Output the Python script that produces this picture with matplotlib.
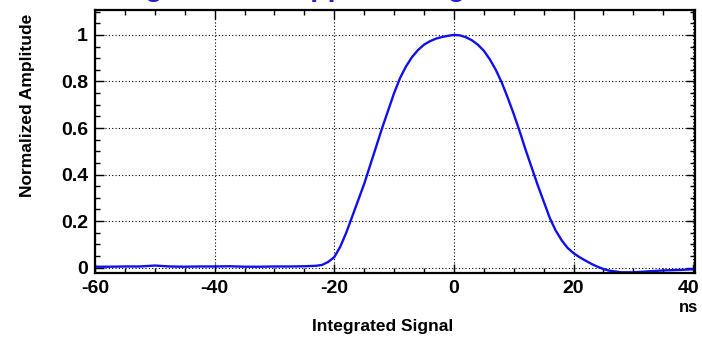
import numpy as np
import matplotlib
matplotlib.use("Agg")
import matplotlib.pyplot as plt
import matplotlib.transforms as mtransforms
from matplotlib.ticker import MultipleLocator

plt.rcParams['font.family'] = ['Liberation Sans', 'DejaVu Sans']
plt.rcParams['axes.unicode_minus'] = False

# Integrated signal (time in ns, normalized amplitude)
time_ns = [-60, -57.5, -55, -52.5, -50, -47.5, -45, -42.5, -40, -37.5, -35, -32.5,
           -30, -27.5, -25, -23, -22, -21, -20, -19, -18, -17, -16, -15, -14, -13,
           -12, -11, -10, -9, -8, -7, -6, -5, -4, -3, -2, -1, 0, 1, 2, 3, 4, 5, 6,
           7, 8, 9, 10, 11, 12, 13, 14, 15, 16, 17, 18, 19, 20, 21, 22, 23, 24, 25,
           26, 28, 30, 32.5, 35, 37.5, 40]
amplitude = [0.004, 0.004, 0.005, 0.005, 0.009, 0.005, 0.004, 0.005, 0.005, 0.006,
             0.004, 0.004, 0.005, 0.005, 0.006, 0.008, 0.012, 0.025, 0.045, 0.09,
             0.15, 0.22, 0.29, 0.36, 0.44, 0.52, 0.60, 0.675, 0.75, 0.815, 0.865,
             0.905, 0.935, 0.958, 0.973, 0.984, 0.991, 0.996, 1.0, 0.998, 0.99,
             0.977, 0.958, 0.932, 0.895, 0.85, 0.795, 0.73, 0.66, 0.585, 0.505,
             0.43, 0.355, 0.285, 0.215, 0.16, 0.118, 0.085, 0.062, 0.045, 0.03,
             0.016, 0.004, -0.006, -0.013, -0.02, -0.02, -0.016, -0.012, -0.01,
             -0.007]

x_ticks = [-60, -40, -20, 0, 20, 40]
y_ticks = [0, 0.2, 0.4, 0.6, 0.8, 1]
y_tick_labels = ['0', '0.2', '0.4', '0.6', '0.8', '1']

fig = plt.figure(figsize=(7.02, 3.38), dpi=100)
ax = fig.add_axes([95 / 702, 1 - 273 / 338, 600 / 702, 263 / 338])

ax.plot(time_ns, amplitude, color='#1010ee', lw=1.7)

ax.set_xlim(-60, 40.3)
ax.set_ylim(-0.023, 1.107)
ax.set_xticks(x_ticks)
ax.set_yticks(y_ticks)
ax.set_yticklabels(y_tick_labels)
ax.xaxis.set_minor_locator(MultipleLocator(5))
ax.yaxis.set_minor_locator(MultipleLocator(0.05))
ax.tick_params(which='both', direction='in', top=True, right=True, width=1)
ax.tick_params(which='major', length=6.5, labelsize=14, pad=5)
ax.tick_params(which='minor', length=3.5)
for lab in ax.get_xticklabels() + ax.get_yticklabels():
    lab.set_fontweight('bold')
# the "40" label sits a little left of its tick so it stays inside the picture
last = ax.get_xticklabels()[-1]
last.set_transform(last.get_transform() +
                   mtransforms.ScaledTranslation(-5 / 100, 0, fig.dpi_scale_trans))
for sp in ax.spines.values():
    sp.set_linewidth(1.6)

ax.grid(True, which='major', color='k', linestyle=(0, (1, 2)), linewidth=0.8)

fig.text(689 / 702, 1 - 307 / 338, 'ns', ha='center', va='center',
         fontsize=12, fontweight='bold')
fig.text(383 / 702, 1 - 326 / 338, 'Integrated Signal', ha='center', va='center',
         fontsize=12.5, fontweight='bold')
fig.text(28 / 702, 1 - 105 / 338, 'Normalized Amplitude', ha='center', va='center',
         rotation=90, fontsize=12.5, fontweight='bold')
# title cut off by the top edge in the original, only descenders show
fig.text(101 / 702, 1 + 3.5 / 338, 'Single Bunch Approaching', ha='left',
         va='baseline', fontsize=20.5, fontweight='bold', color='#2020cc')

fig.savefig('out.png', dpi=100)
